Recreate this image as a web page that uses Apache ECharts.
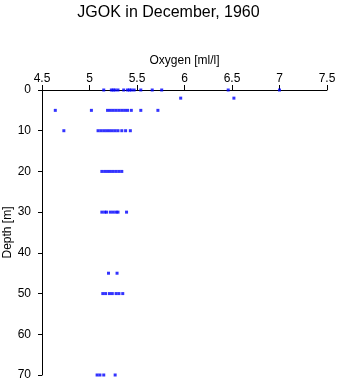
<!DOCTYPE html>
<html>
<head>
<meta charset="utf-8">
<script src="https://cdn.jsdelivr.net/npm/echarts@6/dist/echarts.min.js"></script>
<style>html,body{margin:0;padding:0;background:#fff}#c{width:337px;height:384px}</style>
</head>
<body>
<div id="c"></div>
<script>
const titleText = 'JGOK in December, 1960';
const xName = 'Oxygen [ml/l]';
const yName = 'Depth [m]';
const depths = [0, 2, 5, 10, 20, 30, 45, 50, 70];
const oxy0 = [5.15, 5.23, 5.25, 5.27, 5.30, 5.36, 5.40, 5.42, 5.44, 5.47, 5.54, 5.66, 5.76, 6.46, 7.0];
const oxy2 = [5.96, 6.52];
const oxy5 = [4.64, 5.02, 5.19, 5.22, 5.25, 5.28, 5.31, 5.34, 5.37, 5.40, 5.44, 5.54, 5.72];
const oxy10 = [4.73, 5.09, 5.12, 5.15, 5.18, 5.21, 5.24, 5.27, 5.30, 5.34, 5.38, 5.43];
const oxy20 = [5.13, 5.16, 5.19, 5.22, 5.25, 5.28, 5.31, 5.34];
const oxy30 = [5.13, 5.16, 5.18, 5.22, 5.25, 5.28, 5.30, 5.39];
const oxy45 = [5.20, 5.29];
const oxy50 = [5.14, 5.17, 5.21, 5.24, 5.28, 5.31, 5.35];
const oxy70 = [5.08, 5.11, 5.15, 5.27];
const oxyByDepth = [oxy0, oxy2, oxy5, oxy10, oxy20, oxy30, oxy45, oxy50, oxy70];

const points = [];
depths.forEach((d, i) => oxyByDepth[i].forEach(v => points.push([v, d])));

const chart = echarts.init(document.getElementById('c'));
const font = 'Liberation Sans, Arial, Helvetica, sans-serif';
chart.setOption({
  animation: false,
  title: {
    text: titleText, left: 'center', top: 0,
    textStyle: {fontSize: 16, fontWeight: 'normal', color: '#000', fontFamily: font}
  },
  grid: {left: 42, right: 10, top: 90, bottom: 9, containLabel: false, outerBoundsMode: 'none'},
  xAxis: {
    type: 'value', position: 'top', min: 4.5, max: 7.5, interval: 0.5,
    name: xName, nameLocation: 'middle', nameGap: 23, nameMoveOverlap: false,
    nameTextStyle: {fontSize: 12, color: '#000', fontFamily: font},
    axisLine: {show: true, onZero: false, lineStyle: {color: '#000', width: 1}},
    axisTick: {show: true, length: 5, lineStyle: {color: '#000'}},
    axisLabel: {fontSize: 12, color: '#000', margin: 5, fontFamily: font},
    splitLine: {show: false}
  },
  yAxis: {
    type: 'value', inverse: true, min: 0, max: 70, interval: 10,
    name: yName, nameLocation: 'middle', nameGap: 28, nameMoveOverlap: false,
    nameTextStyle: {fontSize: 12, color: '#000', fontFamily: font},
    axisLine: {show: true, onZero: false, lineStyle: {color: '#000', width: 1}},
    axisTick: {show: true, length: 4, lineStyle: {color: '#000'}},
    axisLabel: {fontSize: 12, color: '#000', margin: 11, fontFamily: font},
    splitLine: {show: false}
  },
  series: [{
    type: 'scatter', data: points, symbol: 'rect', symbolSize: 3,
    itemStyle: {color: '#0000ff'}
  }]
});
</script>
</body>
</html>
